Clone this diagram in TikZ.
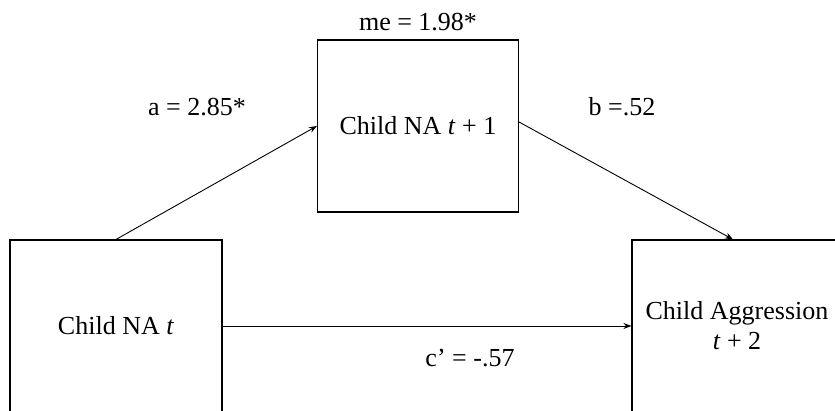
\documentclass[tikz,border=0pt]{standalone}
\usepackage{fontspec}
\setmainfont{Liberation Serif}
\usetikzlibrary{arrows.meta}
\begin{document}
\begin{tikzpicture}[x=1pt,y=-1pt,
  box/.style={draw, line width=1.1pt, inner sep=0pt, font=\fontsize{26}{30}\selectfont, align=center, minimum height=172pt},
  lab/.style={font=\fontsize{26}{30}\selectfont, inner sep=0pt},
  arr/.style={-{Stealth[length=8pt,width=6pt]}, line width=0.9pt}]
\clip (0,0) rectangle (835,411);
\fill[white] (0,0) rectangle (835,411);
\node[box, minimum width=212pt] (na) at (116,326) {Child NA \textit{t}};
\node[box, minimum width=201pt] (na1) at (418,126) {Child NA \textit{t} + 1};
\node[box, minimum width=210pt] (agg) at (737,326) {Child Aggression\\\textit{t} + 2};
\node[lab] (me) at (418,22) {me = 1.98*};
\node[lab] (la) at (197,107) {a = 2.85*};
\node[lab] (lb) at (622,107) {b =.52};
\node[lab] (lc) at (470,358) {c’ = -.57};
\draw[arr] (na.north) -- (na1.west);
\draw[arr] ([yshift=4pt]na1.east) -- ([xshift=-4pt]agg.north);
\draw[arr] (na.east) -- (agg.west);
\end{tikzpicture}
\end{document}
